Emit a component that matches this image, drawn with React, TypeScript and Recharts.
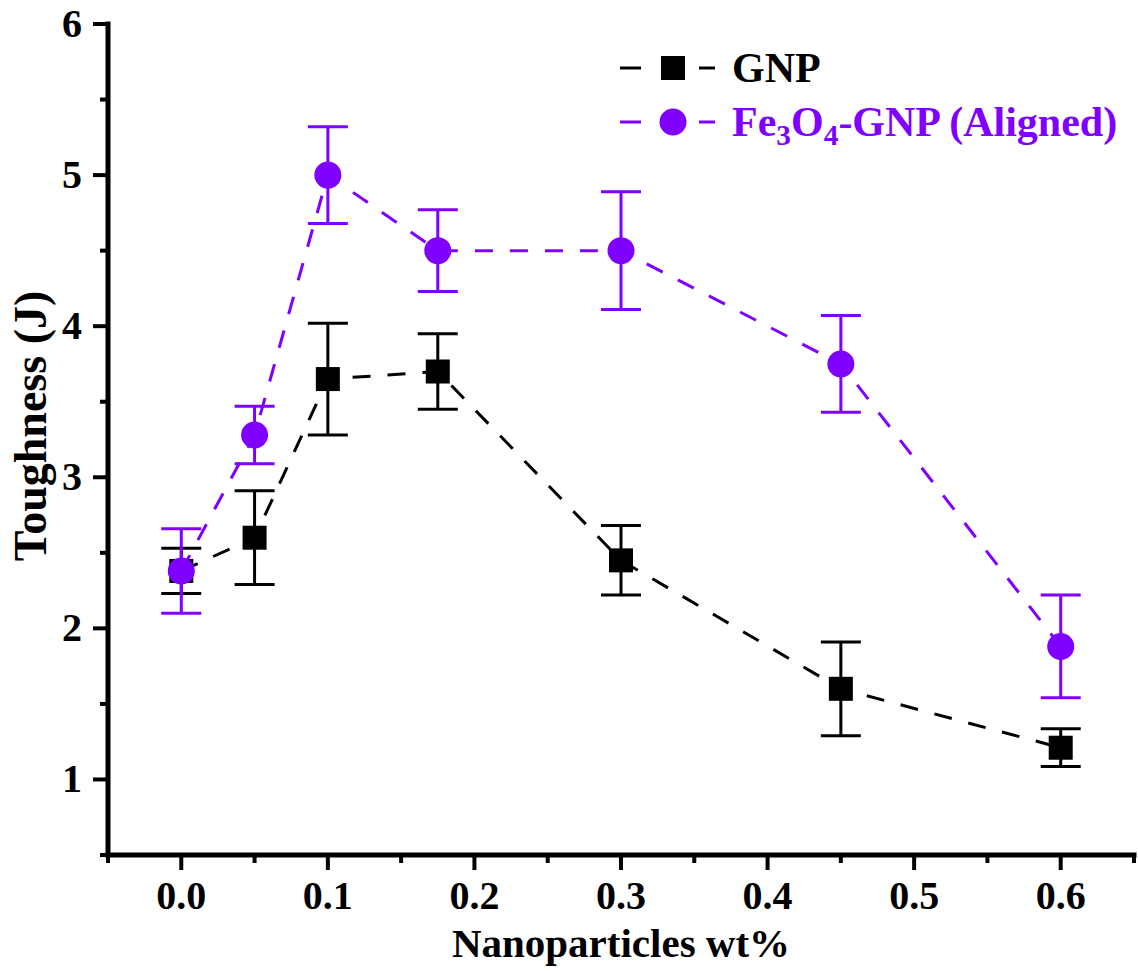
import React from 'react';
import { ComposedChart, Line, XAxis, YAxis, ErrorBar } from 'recharts';

const xValues = [0, 0.05, 0.1, 0.175, 0.3, 0.45, 0.6];
const gnpValues = [2.38, 2.6, 3.65, 3.7, 2.45, 1.6, 1.21];
const gnpErrors = [0.15, 0.31, 0.37, 0.25, 0.23, 0.31, 0.125];
const feValues = [2.38, 3.28, 5.0, 4.5, 4.5, 3.75, 1.88];
const feErrors = [0.28, 0.19, 0.32, 0.27, 0.39, 0.32, 0.34];

const xTicks = [-0.05, 0, 0.05, 0.1, 0.15, 0.2, 0.25, 0.3, 0.35, 0.4, 0.45, 0.5, 0.55, 0.6, 0.65];
const yTicks = [0.5, 1, 1.5, 2, 2.5, 3, 3.5, 4, 4.5, 5, 5.5, 6];
const xMajor = [0, 0.1, 0.2, 0.3, 0.4, 0.5, 0.6];
const yMajor = [1, 2, 3, 4, 5, 6];

const data = xValues.map((x, i) => ({
  x,
  gnp: gnpValues[i],
  gnpErr: gnpErrors[i],
  fe: feValues[i],
  feErr: feErrors[i],
}));

const PURPLE = '#7f00ff';
const FONT = '"Liberation Serif", "Times New Roman", serif';

const isIn = (v: number, arr: number[]) => arr.some((a) => Math.abs(a - v) < 1e-6);

const XTick = (props: any) => {
  const { x, y, payload } = props;
  const major = isIn(payload.value, xMajor);
  return (
    <g>
      <line x1={x} x2={x} y1={y} y2={y + (major ? 15 : 8)} stroke="#000" strokeWidth={4} />
      {major && (
        <text x={x} y={y + 54} textAnchor="middle" fontFamily={FONT} fontWeight="bold" fontSize={40} fill="#000">
          {Number(payload.value).toFixed(1)}
        </text>
      )}
    </g>
  );
};

const YTick = (props: any) => {
  const { x, y, payload } = props;
  const major = isIn(payload.value, yMajor);
  return (
    <g>
      <line x1={x} x2={x - (major ? 15 : 8)} y1={y} y2={y} stroke="#000" strokeWidth={4} />
      {major && (
        <text x={x - 26} y={y + 13} textAnchor="end" fontFamily={FONT} fontWeight="bold" fontSize={40} fill="#000">
          {String(payload.value)}
        </text>
      )}
    </g>
  );
};

const SquareDot = (props: any) => {
  const { cx, cy, index } = props;
  if (cx == null || cy == null) return <g key={`s${index}`} />;
  return <rect key={`s${index}`} x={cx - 12} y={cy - 12} width={24} height={24} fill="#000" />;
};

const CircleDot = (props: any) => {
  const { cx, cy, index } = props;
  if (cx == null || cy == null) return <g key={`c${index}`} />;
  return <circle key={`c${index}`} cx={cx} cy={cy} r={13.5} fill={PURPLE} />;
};

const LegendBox = () => {
  const row = (color: string, marker: React.ReactNode, label: React.ReactNode) => (
    <div style={{ display: 'flex', alignItems: 'center', height: 54 }}>
      <svg width={110} height={40} style={{ display: 'block' }}>
        <line x1={2} x2={23} y1={20} y2={20} stroke={color} strokeWidth={3} />
        {marker}
        <line x1={81} x2={97} y1={20} y2={20} stroke={color} strokeWidth={3} />
      </svg>
      <span style={{ fontFamily: FONT, fontWeight: 'bold', fontSize: 42, color, whiteSpace: 'nowrap', marginLeft: 4 }}>
        {label}
      </span>
    </div>
  );
  return (
    <div style={{ position: 'absolute', left: 618, top: 41, width: 520 }}>
      {row('#000', <rect x={43} y={8} width={24} height={24} fill="#000" />, 'GNP')}
      {row(
        PURPLE,
        <circle cx={55} cy={20} r={13.5} fill={PURPLE} />,
        <span>
          Fe<span style={{ fontSize: '0.7em', position: 'relative', top: '0.3em' }}>3</span>O
          <span style={{ fontSize: '0.7em', position: 'relative', top: '0.3em' }}>4</span>-GNP (Aligned)
        </span>
      )}
    </div>
  );
};

export default function App() {
  return (
    <div style={{ position: 'absolute', left: 0, top: 0, width: 1138, height: 971, background: '#fff' }}>
      <ComposedChart width={1138} height={971} data={data} margin={{ top: 24, right: 4, left: 0, bottom: 0 }}>
        <XAxis
          dataKey="x"
          type="number"
          domain={[-0.05, 0.65]}
          ticks={xTicks}
          interval={0}
          allowDataOverflow
          height={116}
          tickSize={0}
          tickMargin={0}
          tickLine={false}
          tick={<XTick />}
          axisLine={{ stroke: '#000', strokeWidth: 5, strokeLinecap: 'square' }}
          label={{
            content: () => (
              <text x={621} y={957} textAnchor="middle" fontFamily={FONT} fontWeight="bold" fontSize={41} fill="#000">
                Nanoparticles wt%
              </text>
            ),
          }}
        />
        <XAxis
          xAxisId="top"
          orientation="top"
          type="number"
          dataKey="x"
          domain={[-0.05, 0.65]}
          allowDataOverflow
          height={0}
          tick={false}
          tickLine={false}
          axisLine={{ stroke: '#000', strokeWidth: 5, strokeLinecap: 'square' }}
        />
        <YAxis
          type="number"
          domain={[0.5, 6]}
          ticks={yTicks}
          interval={0}
          allowDataOverflow
          width={108}
          tickSize={0}
          tickMargin={0}
          tickLine={false}
          tick={<YTick />}
          axisLine={{ stroke: '#000', strokeWidth: 5, strokeLinecap: 'square' }}
          label={{
            content: () => (
              <text
                x={46}
                y={426}
                transform="rotate(-90 46 426)"
                textAnchor="middle"
                fontFamily={FONT}
                fontWeight="bold"
                fontSize={46}
                fill="#000"
              >
                Toughness (J)
              </text>
            ),
          }}
        />
        <YAxis
          yAxisId="right"
          orientation="right"
          type="number"
          domain={[0.5, 6]}
          allowDataOverflow
          width={0}
          tick={false}
          tickLine={false}
          axisLine={{ stroke: '#000', strokeWidth: 5, strokeLinecap: 'square' }}
        />
        <Line
          dataKey="gnp"
          stroke="#000"
          strokeWidth={3}
          strokeDasharray="18 17"
          dot={<SquareDot />}
          activeDot={false}
          isAnimationActive={false}
        >
          <ErrorBar dataKey="gnpErr" direction="y" width={20} stroke="#000" strokeWidth={3} isAnimationActive={false} />
        </Line>
        <Line
          dataKey="fe"
          stroke={PURPLE}
          strokeWidth={3}
          strokeDasharray="18 17"
          dot={<CircleDot />}
          activeDot={false}
          isAnimationActive={false}
        >
          <ErrorBar dataKey="feErr" direction="y" width={20} stroke={PURPLE} strokeWidth={3} isAnimationActive={false} />
        </Line>
      </ComposedChart>
      <LegendBox />
    </div>
  );
}
